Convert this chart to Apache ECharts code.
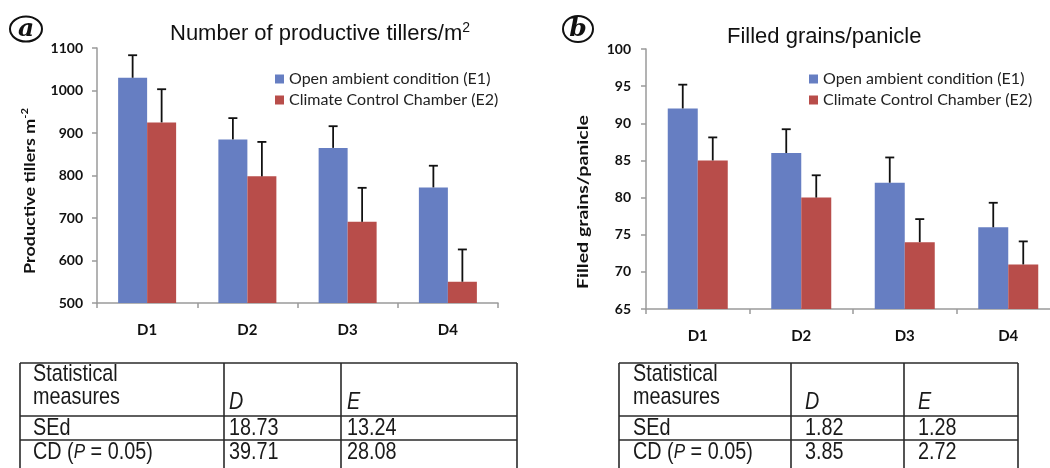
<!DOCTYPE html>
<html>
<head>
<meta charset="utf-8">
<script src="https://cdn.jsdelivr.net/npm/echarts@6/dist/echarts.min.js"></script>
<style>html,body{margin:0;padding:0;background:#fff;overflow:hidden;}#c{width:1075px;height:468px;}</style>
</head>
<body>
<div id="c"></div>
<script>
// ---- data ----
const categories = ['D1', 'D2', 'D3', 'D4'];
const seriesNames = ['Open ambient condition (E1)', 'Climate Control Chamber (E2)'];
// panel a: productive tillers per m2
const tillersE1 = [1030, 885, 865, 772];
const tillersE2 = [925, 798, 691, 550];
const tillersE1Top = [1083, 935, 916, 823];
const tillersE2Top = [1003, 879, 771, 626];
const tillersTicks = [500, 1100, 100];
// panel b: filled grains per panicle
const grainsE1 = [92, 86, 82, 76];
const grainsE2 = [85, 80, 74, 71];
const grainsE1Top = [95.2, 89.2, 85.4, 79.3];
const grainsE2Top = [88.1, 83.0, 77.1, 74.1];
const grainsTicks = [65, 100, 5];
// tables
const tableHeader = ['Statistical', 'measures', 'D', 'E'];
const tableA = [['SEd', '18.73', '13.24'], ['CD', '39.71', '28.08']];
const tableB = [['SEd', '1.82', '1.28'], ['CD', '3.85', '2.72']];

const BLUE = '#667ec2', RED = '#b84d4a', AXIS = '#9a9a9a';
const LBL = 'Lato, "Open Sans", sans-serif';

function errItem(sign, bw) {
  return function (params, api) {
    const x = api.value(0), v = api.value(1), t = api.value(2);
    const p0 = api.coord([x, v]), p1 = api.coord([x, t]);
    const cx = p0[0] + sign * bw / 2;
    const st = { stroke: '#111', lineWidth: 1.8 };
    return { type: 'group', children: [
      { type: 'line', shape: { x1: cx, y1: p0[1], x2: cx, y2: p1[1] }, style: st },
      { type: 'line', shape: { x1: cx - 4.5, y1: p1[1], x2: cx + 4.5, y2: p1[1] }, style: st }
    ]};
  };
}
function errData(vals, tops) { return vals.map((v, i) => [i, v, tops[i]]); }

function xAx(gi) {
  return { type: 'category', gridIndex: gi, data: categories,
    axisLine: { lineStyle: { color: AXIS, width: 1.5 } },
    axisTick: { show: true, length: 5, lineStyle: { color: AXIS, width: 1.5 } },
    axisLabel: { margin: 20, color: '#111', fontFamily: LBL, fontWeight: 'bold', fontSize: 15 } };
}
function yAx(gi, t, m) {
  return { type: 'value', gridIndex: gi, min: t[0], max: t[1], interval: t[2],
    axisLine: { show: true, lineStyle: { color: AXIS, width: 1.5 } },
    axisTick: { show: true, length: 5, lineStyle: { color: AXIS, width: 1.5 } },
    splitLine: { show: false },
    axisLabel: { margin: m, color: '#111', fontFamily: LBL, fontWeight: 'bold', fontSize: 14,
      formatter: v => String(v) } };
}
function legend(left, top) {
  return { left: left, top: top, orient: 'vertical', itemWidth: 9, itemHeight: 9, itemGap: 5,
    icon: 'rect', data: seriesNames, selectedMode: false,
    textStyle: { fontFamily: LBL, fontSize: 16, color: '#222' } };
}

// table graphics
const TF = '"Liberation Sans", Arial, sans-serif';
function tableGraphics(x0, c1, c2, x1, tx0, tx1, tx2, rows) {
  const g = [];
  const ls = { stroke: '#2a2a2a', lineWidth: 1.6 };
  const yTop = 363, yH = 416, yR = 440, yB = 475;
  [[x0, yTop, x1, yTop], [x0, yH, x1, yH], [x0, yR, x1, yR],
   [x0, yTop, x0, yB], [c1, yTop, c1, yB], [c2, yTop, c2, yB], [x1, yTop, x1, yB]]
    .forEach(s => g.push({ type: 'line', shape: { x1: s[0], y1: s[1], x2: s[2], y2: s[3] }, style: ls }));
  const sx = 0.9, sy = 1.08;
  function t(x, y, text, rich, italic) {
    const o = { type: 'text', x: x, y: y, scaleX: sx, scaleY: sy,
      style: { text: text, fill: '#1a1a1a', font: (italic ? 'italic ' : '') + '22px ' + TF, verticalAlign: 'middle', align: 'left' } };
    if (rich) o.style.rich = rich;
    g.push(o);
  }
  t(tx0, 374, tableHeader[0]);
  t(tx0, 397, tableHeader[1]);
  t(tx1, 402, tableHeader[2], null, true);
  t(tx2, 402, tableHeader[3], null, true);
  const ys = [428, 452];
  rows.forEach((r, i) => {
    if (r[0] === 'CD') {
      t(tx0, ys[i], '{n|CD (}{i|P}{n| = 0.05)}', {
        n: { font: '22px ' + TF, fill: '#1a1a1a' },
        i: { font: 'italic 19px ' + TF, fill: '#1a1a1a' } });
    } else {
      t(tx0, ys[i], r[0]);
    }
    t(tx1, ys[i], r[1]);
    t(tx2, ys[i], r[2]);
  });
  return g;
}

const graphics = [
  // circled panel letters
  { type: 'ellipse', shape: { cx: 26, cy: 29, rx: 16, ry: 12.5 }, style: { fill: 'none', stroke: '#111', lineWidth: 2 } },
  { type: 'text', x: 26, y: 29, style: { text: 'a', font: 'italic bold 25px "DejaVu Serif", "Liberation Serif", serif', fill: '#111', align: 'center', verticalAlign: 'middle' } },
  { type: 'ellipse', shape: { cx: 578, cy: 29, rx: 15, ry: 13 }, style: { fill: 'none', stroke: '#111', lineWidth: 2 } },
  { type: 'text', x: 578, y: 29, style: { text: 'b', font: 'italic bold 25px "DejaVu Serif", "Liberation Serif", serif', fill: '#111', align: 'center', verticalAlign: 'middle' } },
  // titles
  { type: 'text', x: 170, y: 34, style: { text: '{a|Number of productive tillers/m}{s|2}', verticalAlign: 'middle',
      rich: { a: { font: '22px "Liberation Sans", Arial, sans-serif', fill: '#111', lineHeight: 26 },
              s: { font: '14px "Liberation Sans", Arial, sans-serif', fill: '#111', lineHeight: 14, verticalAlign: 'top' } } } },
  { type: 'text', x: 727, y: 37, style: { text: 'Filled grains/panicle', font: '22px "Liberation Sans", Arial, sans-serif', fill: '#111', verticalAlign: 'middle' } },
  // y axis names
  { type: 'text', x: 30, y: 191, rotation: Math.PI / 2, scaleX: 1.12, style: { text: '{a|Productive tillers m}{s|-2}', align: 'center', verticalAlign: 'middle',
      rich: { a: { font: 'bold 16px ' + LBL, fill: '#111', lineHeight: 20 },
              s: { font: 'bold 10px ' + LBL, fill: '#111', lineHeight: 11, verticalAlign: 'top' } } } },
  { type: 'text', x: 583, y: 202, rotation: Math.PI / 2, scaleX: 1.22, style: { text: 'Filled grains/panicle', font: 'bold 16px ' + LBL, fill: '#111', align: 'center', verticalAlign: 'middle' } }
].concat(
  tableGraphics(20, 224, 341, 517, 33, 229, 347, tableA),
  tableGraphics(619, 791, 904, 1018, 633, 805, 918, tableB)
);

const chart = echarts.init(document.getElementById('c'));
chart.setOption({
  animation: false,
  backgroundColor: '#fff',
  grid: [
    { left: 97, top: 48, width: 401, height: 255 },
    { left: 646, top: 49, width: 414, height: 260 }
  ],
  xAxis: [xAx(0), xAx(1)],
  yAxis: [yAx(0, tillersTicks, 14), yAx(1, grainsTicks, 15)],
  legend: [legend(270, 66), legend(804, 66)],
  series: [
    { name: seriesNames[0], type: 'bar', xAxisIndex: 0, yAxisIndex: 0, data: tillersE1, barWidth: 29, barGap: '0%', itemStyle: { color: BLUE } },
    { name: seriesNames[1], type: 'bar', xAxisIndex: 0, yAxisIndex: 0, data: tillersE2, barWidth: 29, barGap: '0%', itemStyle: { color: RED } },
    { name: seriesNames[0], type: 'bar', xAxisIndex: 1, yAxisIndex: 1, data: grainsE1, barWidth: 30, barGap: '0%', itemStyle: { color: BLUE } },
    { name: seriesNames[1], type: 'bar', xAxisIndex: 1, yAxisIndex: 1, data: grainsE2, barWidth: 30, barGap: '0%', itemStyle: { color: RED } },
    { type: 'custom', xAxisIndex: 0, yAxisIndex: 0, renderItem: errItem(-1, 29), data: errData(tillersE1, tillersE1Top), z: 5, encode: { x: 0, y: 1 } },
    { type: 'custom', xAxisIndex: 0, yAxisIndex: 0, renderItem: errItem(1, 29), data: errData(tillersE2, tillersE2Top), z: 5, encode: { x: 0, y: 1 } },
    { type: 'custom', xAxisIndex: 1, yAxisIndex: 1, renderItem: errItem(-1, 30), data: errData(grainsE1, grainsE1Top), z: 5, encode: { x: 0, y: 1 } },
    { type: 'custom', xAxisIndex: 1, yAxisIndex: 1, renderItem: errItem(1, 30), data: errData(grainsE2, grainsE2Top), z: 5, encode: { x: 0, y: 1 } }
  ],
  graphic: graphics
});
</script>
</body>
</html>
